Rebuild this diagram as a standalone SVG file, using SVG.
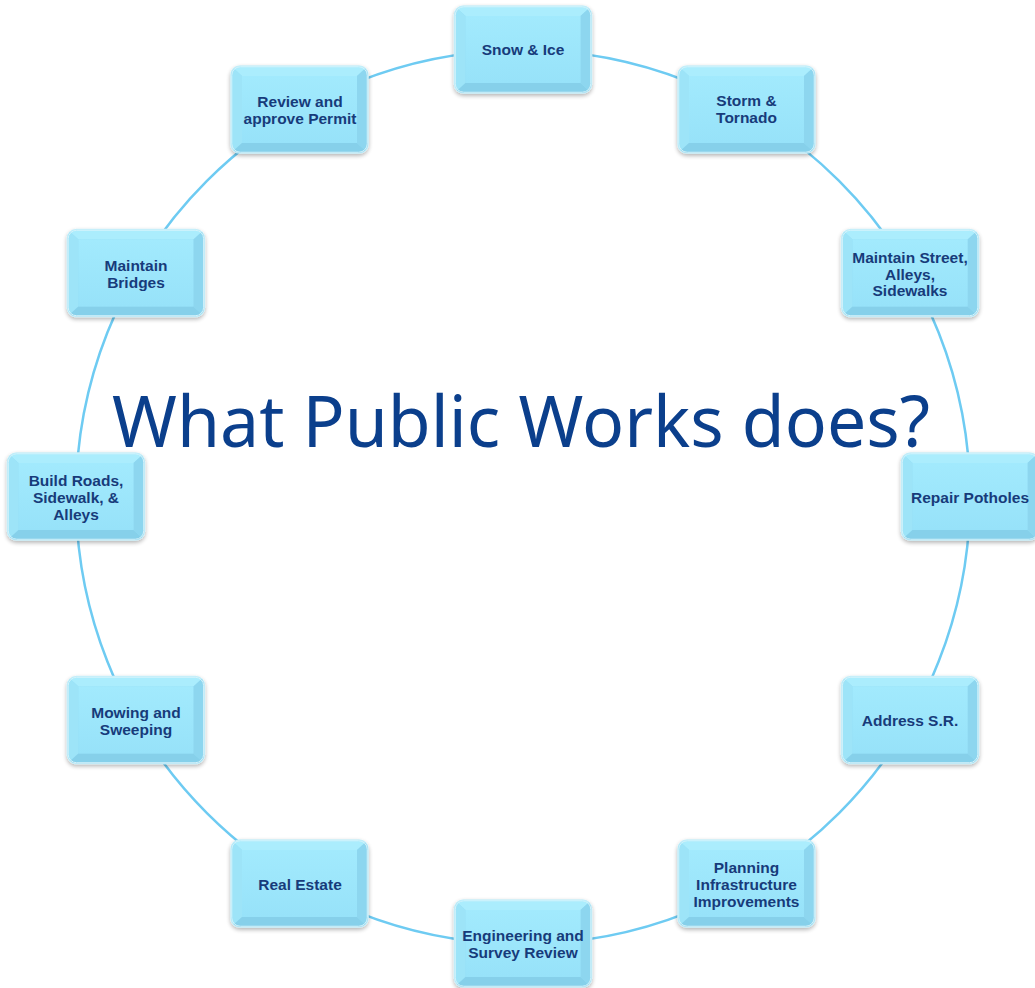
<svg xmlns="http://www.w3.org/2000/svg" width="1035" height="988" viewBox="0 0 1035 988">
<style>
.lbl{font-family:"Liberation Sans","Noto Sans",Arial,sans-serif;font-weight:bold;font-size:15.5px;fill:#173b7a;text-anchor:middle}
.title{font-family:"Noto Sans","Liberation Sans",sans-serif;font-size:72px;fill:#0b3f8c}
.ring{fill:none;stroke:#6ecbf2;stroke-width:2.5}
</style>
<defs>
<filter id="sh" x="-10%" y="-10%" width="120%" height="125%">
<feGaussianBlur in="SourceAlpha" stdDeviation="2"/>
<feOffset dx="0" dy="1.5" result="b"/>
<feComponentTransfer><feFuncA type="linear" slope="0.3"/></feComponentTransfer>
<feMerge><feMergeNode/><feMergeNode in="SourceGraphic"/></feMerge>
</filter>
<linearGradient id="face" x1="0" y1="0" x2="0" y2="1">
<stop offset="0" stop-color="#a2eafd"/>
<stop offset="1" stop-color="#97e2f9"/>
</linearGradient>
<clipPath id="rr"><rect x="0" y="0" width="137" height="87" rx="9"/></clipPath>
<symbol id="box" overflow="visible">
<g filter="url(#sh)">
<rect x="0" y="0" width="137" height="87" rx="9" fill="#93dcf4" stroke="#c9eef8" stroke-width="1.5"/>
<g clip-path="url(#rr)">
<polygon points="0,0 137,0 126,10 11,10" fill="#abedfd"/>
<polygon points="0,0 11,10 11,77 0,87" fill="#9de4f8"/>
<polygon points="0,87 11,77 126,77 137,87" fill="#86d0ea"/>
<polygon points="137,0 137,87 126,77 126,10" fill="#8dd6ef"/>
<rect x="11" y="10" width="115" height="67" fill="url(#face)"/>
</g>
<rect x="0.75" y="0.75" width="135.5" height="85.5" rx="8.5" fill="none" stroke="#d6f3fb" stroke-width="1"/>
</g>
</symbol>
</defs>
<rect width="1035" height="988" fill="#ffffff"/>
<g id="connectors">
<circle class="ring" cx="523" cy="497" r="447"/>
</g>
<text class="title" x="521" y="447" text-anchor="middle" textLength="818" lengthAdjust="spacingAndGlyphs">What Public Works does?</text>
<g id="n1"><use href="#box" x="454.5" y="6"/><text class="lbl" x="523" y="55">Snow &amp; Ice</text></g>
<g id="n2"><use href="#box" x="678" y="66"/><text class="lbl" x="746.5" y="106">Storm &amp;</text><text class="lbl" x="746.5" y="123">Tornado</text></g>
<g id="n3"><use href="#box" x="841.6" y="229.5"/><text class="lbl" x="910" y="263">Maintain Street,</text><text class="lbl" x="910" y="279.5">Alleys,</text><text class="lbl" x="910" y="296">Sidewalks</text></g>
<g id="n4"><use href="#box" x="901.5" y="453"/><text class="lbl" x="970" y="502.5">Repair Potholes</text></g>
<g id="n5"><use href="#box" x="841.6" y="676.5"/><text class="lbl" x="910" y="725.5">Address S.R.</text></g>
<g id="n6"><use href="#box" x="678" y="840"/><text class="lbl" x="746.5" y="873">Planning</text><text class="lbl" x="746.5" y="890">Infrastructure</text><text class="lbl" x="746.5" y="907">Improvements</text></g>
<g id="n7"><use href="#box" x="454.5" y="900"/><text class="lbl" x="523" y="941">Engineering and</text><text class="lbl" x="523" y="958">Survey Review</text></g>
<g id="n8"><use href="#box" x="231" y="840"/><text class="lbl" x="300" y="889.5">Real Estate</text></g>
<g id="n9"><use href="#box" x="67.4" y="676.5"/><text class="lbl" x="136" y="718">Mowing and</text><text class="lbl" x="136" y="735">Sweeping</text></g>
<g id="n10"><use href="#box" x="7.5" y="453"/><text class="lbl" x="76" y="486">Build Roads,</text><text class="lbl" x="76" y="503">Sidewalk, &amp;</text><text class="lbl" x="76" y="520">Alleys</text></g>
<g id="n11"><use href="#box" x="67.4" y="229.5"/><text class="lbl" x="136" y="271">Maintain</text><text class="lbl" x="136" y="288">Bridges</text></g>
<g id="n12"><use href="#box" x="231" y="66"/><text class="lbl" x="300" y="107">Review and</text><text class="lbl" x="300" y="124">approve Permit</text></g>
</svg>
